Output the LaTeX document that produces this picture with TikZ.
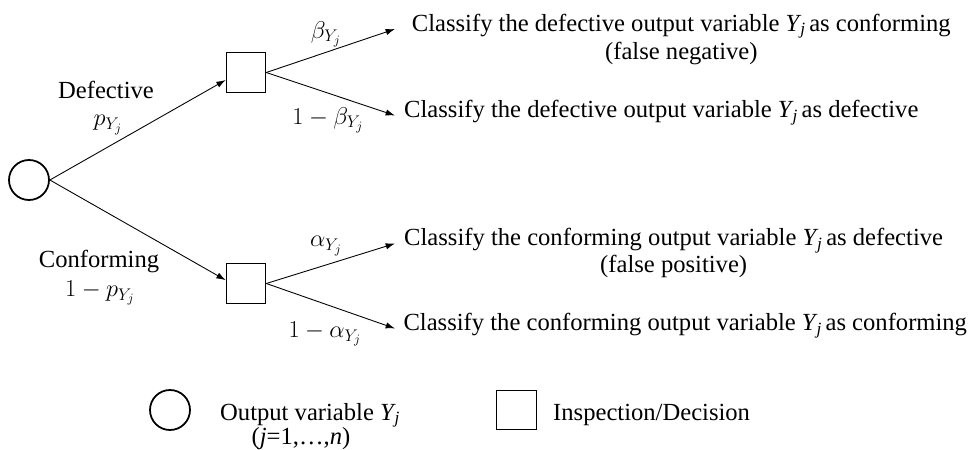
\documentclass[tikz,border=0pt]{standalone}
\usepackage{fontspec}
\setmainfont{Liberation Serif}
\usepackage{amsmath}
\usetikzlibrary{arrows.meta, positioning}
\newcommand{\Yj}{\textit{Y}\kern-0.05em\textsubscript{\textit{j}}\kern-0.1em}

\begin{document}
\begin{tikzpicture}[x=0.03cm, y=-0.03cm, >={Latex[length=0.28cm, width=0.19cm]},
    font=\fontsize{21}{25}\selectfont,
    chance/.style={draw, circle, line width=1.5pt, minimum size=1.2cm, inner sep=0pt},
    decision/.style={draw, rectangle, line width=1.1pt, minimum size=1.18cm, inner sep=0pt},
    branch/.style={->, line width=0.75pt},
    outcome/.style={anchor=west, inner ysep=0pt, inner xsep=0.27cm, text height=0.7em, text depth=0.3em},
    note/.style={anchor=base, inner sep=0pt},
    prob/.style={inner sep=0pt}]
    \useasboundingbox (0, 0) rectangle (969, 450);

    % ── Tree nodes ────────────────────────────────────────────────────
    \node[chance] (root) at (29, 180) {};
    \node[decision] (decD) at (246, 72.5) {};
    \node[decision] (decC) at (246, 283.5) {};

    % ── Outcomes ──────────────────────────────────────────────────────
    \node[outcome, inner xsep=0.5cm] (clsA) at (395, 29) {Classify the defective output variable \Yj{} as conforming};
    \node[note] (fneg) at ([yshift=-0.84cm]clsA.base) {(false negative)};
    \node[outcome] (clsB) at (395, 115.5) {Classify the defective output variable \Yj{} as defective};
    \node[outcome] (clsC) at (395, 243.5) {Classify the conforming output variable \Yj{} as defective};
    \node[note] (fpos) at ([yshift=-0.81cm]clsC.base) {(false positive)};
    \node[outcome, inner xsep=0.25cm] (clsD) at (395, 328.5) {Classify the conforming output variable \Yj{} as conforming};

    % ── Branches ──────────────────────────────────────────────────────
    \draw[branch] (root.east) -- ([yshift=-0.225cm]decD.west);
    \draw[branch] (root.east) -- ([yshift=0.1cm]decC.west);
    \draw[branch] (decD.east) -- (clsA.west);
    \draw[branch] (decD.east) -- (clsB.west);
    \draw[branch] (decC.east) -- (clsC.west);
    \draw[branch] (decC.east) -- (clsD.west);

    % ── Branch labels ─────────────────────────────────────────────────
    \node[prob] (labD) at (106, 90) {Defective};
    \node[prob] (pD) at (108, 125) {$p_{Y_j}$};
    \node[prob] (labC) at (99, 261) {Conforming};
    \node[prob] (pC) at (100, 293) {$1-p_{Y_j}$};
    \node[prob] (beta) at (326, 34) {$\beta_{Y_j}$};
    \node[prob] (nbeta) at (328, 120) {$1-\beta_{Y_j}$};
    \node[prob] (alpha) at (326, 246) {$\alpha_{Y_j}$};
    \node[prob] (nalpha) at (325, 334) {$1-\alpha_{Y_j}$};

    % ── Legend ────────────────────────────────────────────────────────
    \node[chance] (legCirc) at (170, 410) {};
    \node[note, anchor=base west] (legOut) at (220, 420) {Output variable \Yj};
    \node[note] (legIdx) at (301, 444) {(\textit{j}=1,…,\textit{n})};
    \node[decision] (legBox) at (516.5, 410) {};
    \node[note, anchor=base west] (legDec) at (553, 420) {Inspection/Decision};
\end{tikzpicture}
\end{document}
